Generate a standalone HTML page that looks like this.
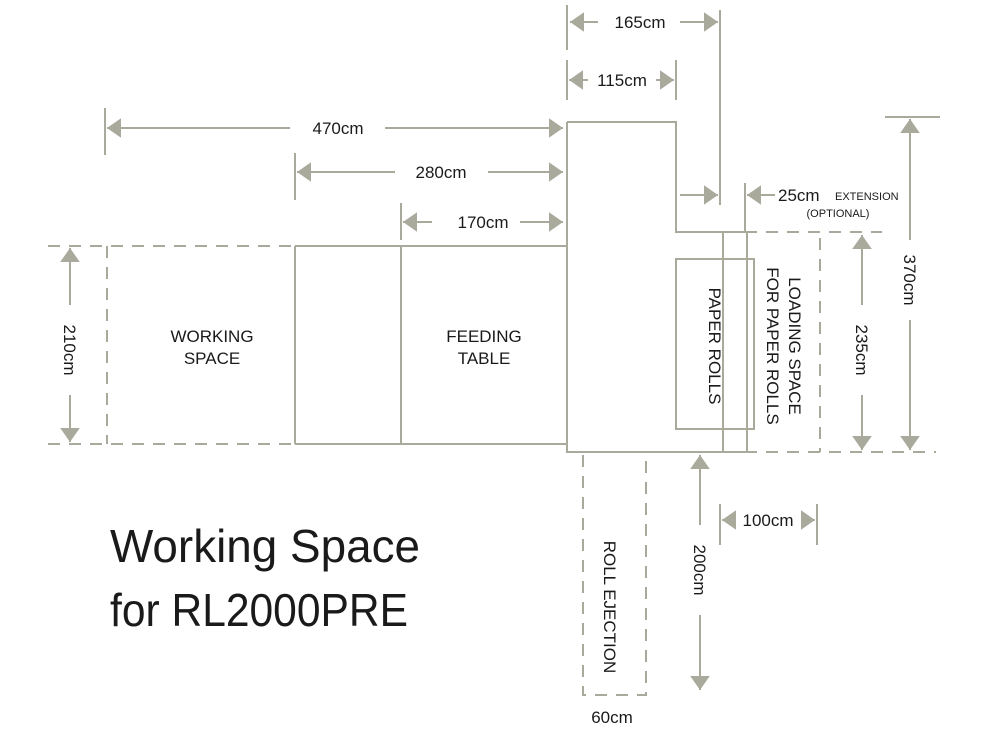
<!DOCTYPE html>
<html><head><meta charset="utf-8"><style>
html,body{margin:0;padding:0;background:#fff;}
svg{display:block}
text{font-family:"Liberation Sans",Arial,sans-serif;fill:#1a1a1a;}
</style></head><body>
<svg width="1000" height="740" viewBox="0 0 1000 740" xmlns="http://www.w3.org/2000/svg">
<defs>
<marker id="a" viewBox="0 0 10 14" refX="10" refY="7" markerWidth="14" markerHeight="20" markerUnits="userSpaceOnUse" orient="auto-start-reverse"><path d="M0,0 L10,7 L0,14 z" fill="#a9a99c"/></marker>
</defs>
<g stroke="#a9a99c" stroke-width="2" fill="none">
<path d="M48,246 H295 M48,444 H295 M107,246 V444" stroke-dasharray="12,9"/>
<path d="M295,246 H567 M295,444 H567 M295,246 V444 M401,246 V444"/>
<path d="M567,122 H676 V232 H745 M567,122 V452 H745"/>
<path d="M745,232 H882 M745,452 H936" stroke-dasharray="12,9"/>
<path d="M720,10 V205 M723,232 V452 M747,232 V452"/>
<rect x="676" y="259" width="78" height="170"/>
<path d="M820,238 V452" stroke-dasharray="12,9"/>
<path d="M583,455 V695 H646 V455" stroke-dasharray="12,9"/>
<path d="M567,5 V50 M567,60 V100 M676,60 V100 M105,108 V155 M295,153 V200 M401,203 V240 M745,183 V232 M885,117 H940 M720,504 V545 M817,504 V545"/>
<path d="M570,22 H598 M680,22 H718" marker-start="url(#a)" marker-end="url(#a)"/>
<path d="M569,80 H588 M656,80 H674" marker-start="url(#a)" marker-end="url(#a)"/>
<path d="M107,128 H290 M385,128 H563" marker-start="url(#a)" marker-end="url(#a)"/>
<path d="M297,172 H395 M488,172 H563" marker-start="url(#a)" marker-end="url(#a)"/>
<path d="M403,222 H432 M520,222 H563" marker-start="url(#a)" marker-end="url(#a)"/>
<path d="M680,195 H718" marker-end="url(#a)"/>
<path d="M775,195 H747" marker-end="url(#a)"/>
<path d="M70,248 V305 M70,395 V442" marker-start="url(#a)" marker-end="url(#a)"/>
<path d="M862,235 V305 M862,395 V450" marker-start="url(#a)" marker-end="url(#a)"/>
<path d="M910,119 V240 M910,320 V450" marker-start="url(#a)" marker-end="url(#a)"/>
<path d="M700,455 V525 M700,615 V690" marker-start="url(#a)" marker-end="url(#a)"/>
<path d="M722,520 H736 M801,520 H815" marker-start="url(#a)" marker-end="url(#a)"/>
</g>
<g font-size="17">
<text x="640" y="28" text-anchor="middle">165cm</text>
<text x="622" y="86" text-anchor="middle">115cm</text>
<text x="338" y="134" text-anchor="middle">470cm</text>
<text x="441" y="178" text-anchor="middle">280cm</text>
<text x="483" y="228" text-anchor="middle">170cm</text>
<text x="778" y="201">25cm</text>
<text x="835" y="200" font-size="11">EXTENSION</text>
<text x="838" y="217" font-size="11" text-anchor="middle">(OPTIONAL)</text>
<text x="768" y="526" text-anchor="middle">100cm</text>
<text x="612" y="723" text-anchor="middle">60cm</text>
<text x="212" y="342" text-anchor="middle">WORKING</text>
<text x="212" y="364" text-anchor="middle">SPACE</text>
<text x="484" y="342" text-anchor="middle">FEEDING</text>
<text x="484" y="364" text-anchor="middle">TABLE</text>
<text transform="translate(64,350) rotate(90)" text-anchor="middle">210cm</text>
<text transform="translate(856,350) rotate(90)" text-anchor="middle">235cm</text>
<text transform="translate(904,280) rotate(90)" text-anchor="middle">370cm</text>
<text transform="translate(694,570) rotate(90)" text-anchor="middle">200cm</text>
<text transform="translate(709,346) rotate(90)" text-anchor="middle">PAPER ROLLS</text>
<text transform="translate(789,346) rotate(90)" text-anchor="middle">LOADING SPACE</text>
<text transform="translate(767,346) rotate(90)" text-anchor="middle">FOR PAPER ROLLS</text>
<text transform="translate(604,607) rotate(90)" text-anchor="middle">ROLL EJECTION</text>
</g>
<text x="110" y="562" font-size="46" fill="#1a1a1a" textLength="310" lengthAdjust="spacingAndGlyphs">Working Space</text>
<text x="110" y="626" font-size="46" fill="#1a1a1a" textLength="298" lengthAdjust="spacingAndGlyphs">for RL2000PRE</text>
</svg>
</body></html>
